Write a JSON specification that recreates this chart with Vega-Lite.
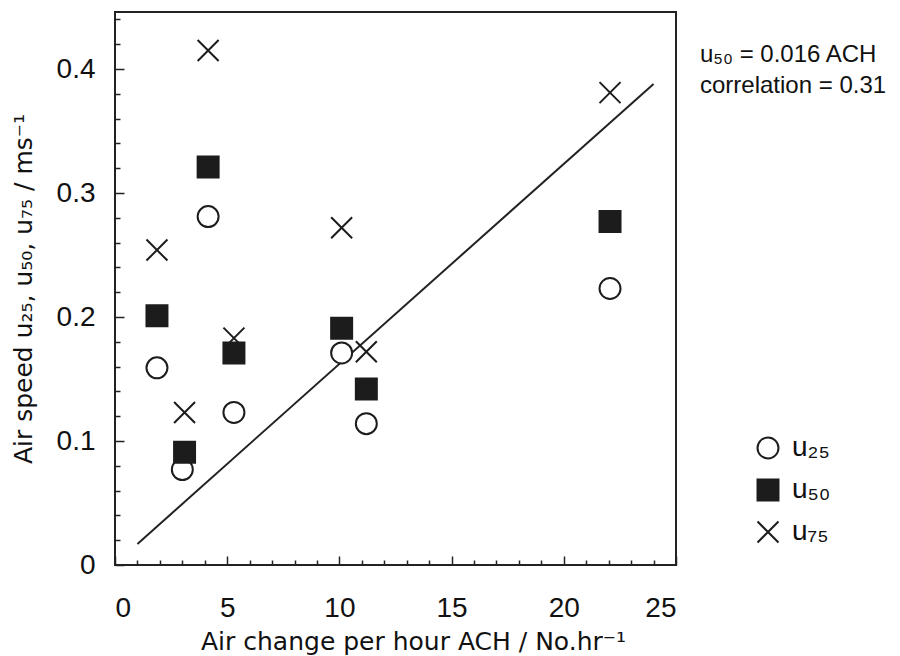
{
  "$schema": "https://vega.github.io/schema/vega-lite/v6.json",
  "autosize": "none",
  "width": 561,
  "height": 553,
  "padding": {"left": 115, "top": 12, "right": 224, "bottom": 91},
  "background": "white",
  "config": {
    "view": {"stroke": "#222", "strokeWidth": 2},
    "font": "Liberation Sans",
    "axis": {
      "domain": false,
      "grid": false,
      "tickColor": "#222",
      "tickWidth": 1.5,
      "labelColor": "#111",
      "titleColor": "#111",
      "labelFont": "Liberation Sans",
      "titleFont": "DejaVu Sans",
      "labelFontSize": 28,
      "titleFontSize": 25,
      "titleFontWeight": "normal"
    }
  },
  "datasets": {
    "pts": [
      {"ach": 1.87, "speed": 0.254, "series": "u₇₅"},
      {"ach": 3.1, "speed": 0.123, "series": "u₇₅"},
      {"ach": 4.15, "speed": 0.415, "series": "u₇₅"},
      {"ach": 5.3, "speed": 0.183, "series": "u₇₅"},
      {"ach": 10.1, "speed": 0.272, "series": "u₇₅"},
      {"ach": 11.2, "speed": 0.172, "series": "u₇₅"},
      {"ach": 22.06, "speed": 0.381, "series": "u₇₅"},
      {"ach": 1.87, "speed": 0.159, "series": "u₂₅"},
      {"ach": 3.0, "speed": 0.077, "series": "u₂₅"},
      {"ach": 4.15, "speed": 0.281, "series": "u₂₅"},
      {"ach": 5.3, "speed": 0.123, "series": "u₂₅"},
      {"ach": 10.1, "speed": 0.171, "series": "u₂₅"},
      {"ach": 11.2, "speed": 0.114, "series": "u₂₅"},
      {"ach": 22.06, "speed": 0.223, "series": "u₂₅"},
      {"ach": 1.87, "speed": 0.201, "series": "u₅₀"},
      {"ach": 3.1, "speed": 0.091, "series": "u₅₀"},
      {"ach": 4.15, "speed": 0.321, "series": "u₅₀"},
      {"ach": 5.3, "speed": 0.171, "series": "u₅₀"},
      {"ach": 10.1, "speed": 0.191, "series": "u₅₀"},
      {"ach": 11.2, "speed": 0.142, "series": "u₅₀"},
      {"ach": 22.06, "speed": 0.277, "series": "u₅₀"}
    ],
    "fit": [
      {"ach": 1.0, "speed": 0.017},
      {"ach": 24.0, "speed": 0.388}
    ],
    "note": [
      {"ach": 25, "speed": 0.411, "label": ["u₅₀ = 0.016 ACH", "correlation = 0.31"]}
    ]
  },
  "encoding": {
    "x": {
      "field": "ach",
      "type": "quantitative",
      "scale": {"domain": [0, 25], "nice": false, "zero": false},
      "axis": {
        "title": "Air change per hour ACH / No.hr⁻¹",
        "values": [0,1,2,3,4,5,6,7,8,9,10,11,12,13,14,15,16,17,18,19,20,21,22,23,24,25],
        "labelExpr": "datum.value % 5 === 0 ? format(datum.value, 'd') : ''",
        "tickSize": {"condition": {"test": "datum.value % 5 === 0", "value": -9}, "value": -5},
        "labelPadding": 38,
        "titlePadding": 7,
        "titleX": 298
      }
    },
    "y": {
      "field": "speed",
      "type": "quantitative",
      "scale": {"domain": [0, 0.446], "nice": false, "zero": false},
      "axis": {
        "title": "Air speed u₂₅, u₅₀, u₇₅ / ms⁻¹",
        "values": [0,0.02,0.04,0.06,0.08,0.1,0.12,0.14,0.16,0.18,0.2,0.22,0.24,0.26,0.28,0.3,0.32,0.34,0.36,0.38,0.4,0.42,0.44],
        "labelExpr": "abs(datum.value*10 - round(datum.value*10)) < 0.001 ? format(datum.value, '.1~f') : ''",
        "tickSize": {"condition": {"test": "abs(datum.value*10 - round(datum.value*10)) < 0.001", "value": -9}, "value": -5},
        "labelPadding": 29,
        "titlePadding": 20
      }
    }
  },
  "layer": [
    {
      "data": {"name": "fit"},
      "mark": {"type": "line", "color": "#222", "strokeWidth": 2},
      "encoding": {}
    },
    {
      "data": {"name": "pts"},
      "mark": {"type": "point", "strokeWidth": 2, "opacity": 1, "filled": false},
      "encoding": {
        "shape": {
          "field": "series",
          "type": "nominal",
          "scale": {"domain": ["u₂₅", "u₅₀", "u₇₅"], "range": ["circle", "square", "M-1,-1L1,1M-1,1L1,-1"]},
          "legend": {
            "title": null,
            "orient": "none",
            "legendX": 639,
            "legendY": 422,
            "symbolSize": 440,
            "symbolStrokeWidth": 2,
            "labelFontSize": 28,
            "labelFont": "Liberation Sans",
            "labelColor": "#111",
            "rowPadding": 12,
            "labelOffset": 10
          }
        },
        "fill": {
          "field": "series",
          "type": "nominal",
          "scale": {"domain": ["u₂₅", "u₅₀", "u₇₅"], "range": ["white", "#1c1c1c", "transparent"]},
          "legend": {
            "title": null,
            "orient": "none",
            "legendX": 639,
            "legendY": 422,
            "symbolSize": 440,
            "symbolStrokeWidth": 2,
            "labelFontSize": 28,
            "labelFont": "Liberation Sans",
            "labelColor": "#111",
            "rowPadding": 12,
            "labelOffset": 10
          }
        },
        "stroke": {
          "field": "series",
          "type": "nominal",
          "scale": {"domain": ["u₂₅", "u₅₀", "u₇₅"], "range": ["#1c1c1c", "#1c1c1c", "#1c1c1c"]},
          "legend": {
            "title": null,
            "orient": "none",
            "legendX": 639,
            "legendY": 422,
            "symbolSize": 440,
            "symbolStrokeWidth": 2,
            "labelFontSize": 28,
            "labelFont": "Liberation Sans",
            "labelColor": "#111",
            "rowPadding": 12,
            "labelOffset": 10
          }
        },
        "size": {"value": 440}
      }
    },
    {
      "data": {"name": "note"},
      "mark": {"type": "text", "align": "left", "baseline": "middle", "dx": 24, "fontSize": 24, "lineHeight": 31, "color": "#111", "font": "Liberation Sans"},
      "encoding": {
        "text": {"field": "label"}
      }
    }
  ]
}
